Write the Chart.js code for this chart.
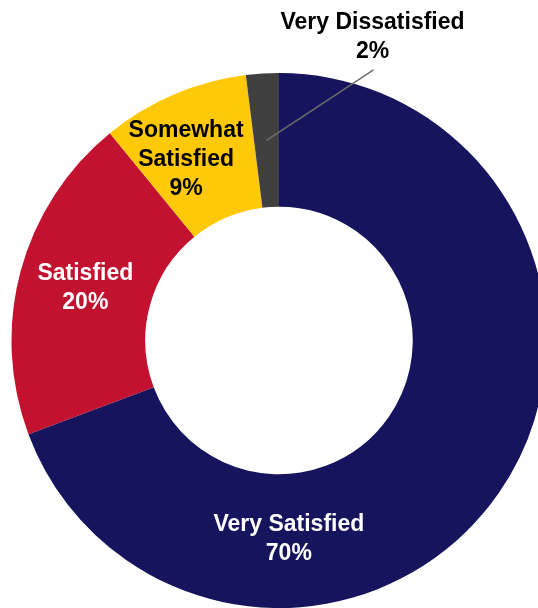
<!DOCTYPE html>
<html>
<head>
<meta charset="utf-8">
<script src="https://cdn.jsdelivr.net/npm/chart.js@4.4.1/dist/chart.umd.min.js"></script>
<style>
  html, body { margin:0; padding:0; background:#fff; overflow:hidden; }
  #wrap { width:538px; height:608px; overflow:hidden; position:relative; }
  #donut { position:absolute; left:0; top:0; }
</style>
</head>
<body>
<div id="wrap"><canvas id="donut" width="558" height="608"></canvas></div>
<script>
// survey results, clockwise from 12 o'clock
const categories = ['Very Satisfied', 'Satisfied', 'Somewhat Satisfied', 'Very Dissatisfied'];
const shares = [70, 20, 9, 2];
const sliceColors = ['#15145c', '#c3122f', '#ffc90a', '#404040'];
const labelColors = ['#ffffff', '#ffffff', '#000000', '#000000'];
// how each label is broken into lines
const labelLines = [['Very Satisfied'], ['Satisfied'], ['Somewhat', 'Satisfied'], ['Very Dissatisfied']];
// label nudges from the slice centre (px); last one sits outside with a leader line
const labelShift = [[-155, 84], [0, 0], [-14, 4], [106, -103]];
const leader = [false, false, false, true];

const FONT = "bold 23px 'Century Gothic', 'Liberation Sans', Arial, sans-serif";
const LINE_H = 29;

const sliceLabels = {
  id: 'sliceLabels',
  afterDatasetsDraw(chart){
    const ctx = chart.ctx;
    const meta = chart.getDatasetMeta(0);
    ctx.save();
    ctx.font = FONT;
    ctx.textAlign = 'center';
    ctx.textBaseline = 'middle';
    meta.data.forEach((arc, i) => {
      const p = arc.tooltipPosition();
      const lines = labelLines[i].concat([shares[i] + '%']);
      const cx = p.x + labelShift[i][0];
      const cy = p.y + labelShift[i][1];
      const top = cy - (lines.length - 1) * LINE_H / 2;
      if(leader[i]){
        ctx.strokeStyle = '#6e6e6e';
        ctx.lineWidth = 1.5;
        ctx.beginPath();
        ctx.moveTo(p.x, p.y);
        ctx.lineTo(cx + 1, top + (lines.length - 1) * LINE_H + 18);
        ctx.stroke();
      }
      ctx.fillStyle = labelColors[i];
      lines.forEach((t, k) => ctx.fillText(t, cx, top + k * LINE_H));
    });
    ctx.restore();
  }
};

new Chart(document.getElementById('donut'), {
  type: 'doughnut',
  data: {
    labels: categories,
    datasets: [{ data: shares, backgroundColor: sliceColors, borderWidth: 0, hoverOffset: 0 }]
  },
  options: {
    responsive: false,
    animation: false,
    cutout: '50%',
    layout: { padding: { top: 73, bottom: 0, left: 0, right: 0 } },
    plugins: { legend: { display: false }, tooltip: { enabled: false } }
  },
  plugins: [sliceLabels]
});
</script>
</body>
</html>
